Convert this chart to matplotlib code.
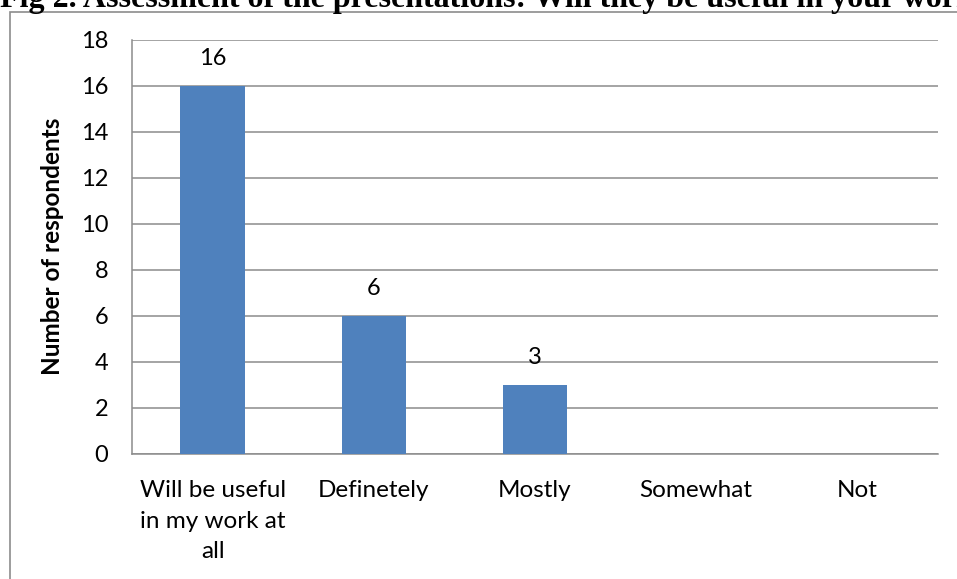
import matplotlib
matplotlib.use("Agg")
import matplotlib.pyplot as plt
from matplotlib.patches import Rectangle

categories = ["Will be useful\nin my work at\nall", "Definetely", "Mostly", "Somewhat", "Not"]
values = [16, 6, 3, 0, 0]
labels = ["16", "6", "3", "", ""]
yticks = [0, 2, 4, 6, 8, 10, 12, 14, 16, 18]
title = "Fig 2. Assessment of the presentations: Will they be useful in your work"

W, H = 957, 579
fig = plt.figure(figsize=(W / 100, H / 100), dpi=100)
fig.patch.set_facecolor("white")

# outer chart frame
fig.patches.append(Rectangle((10 / W, -0.1), 1.2, (H - 12) / H + 0.1,
                             transform=fig.transFigure, fill=False,
                             edgecolor="#8c8c8c", linewidth=1.2))

ax = fig.add_axes([132 / W, 1 - 454 / H, (938 - 132) / W, (454 - 39.5) / H])
x = range(len(categories))
ax.bar(x, values, width=0.4, color="#4F81BD", zorder=3)
for xi, v, lab in zip(x, values, labels):
    if lab:
        ax.annotate(lab, (xi, v), xytext=(0, 12), textcoords="offset points",
                    ha="center", va="bottom", fontsize=17, family="Lato")

ax.set_xlim(-0.5, len(categories) - 0.5)
ax.set_ylim(0, 18)
ax.set_yticks(yticks)
ax.set_yticklabels([str(t) for t in yticks], fontsize=17, family="Lato")
ax.set_xticks(list(x))
ax.set_xticklabels(categories, fontsize=17.5, family="Lato", linespacing=1.55)
ax.tick_params(axis="x", length=0, pad=19)
ax.tick_params(axis="y", length=0, pad=17)
ax.yaxis.grid(True, color="#8c8c8c", linewidth=1.1, zorder=0)
for s in ["top", "right"]:
    ax.spines[s].set_visible(False)
for s in ["left", "bottom"]:
    ax.spines[s].set_color("#8c8c8c")
    ax.spines[s].set_linewidth(1.1)
ax.set_ylabel("Number of respondents", fontsize=17.5, family="Lato",
              fontweight="bold", labelpad=12)

fig.text(0.0, 1 - 7 / H, title, ha="left", va="baseline", fontsize=23,
         family="Liberation Serif", fontweight="bold")

fig.savefig("out.png", dpi=100)
